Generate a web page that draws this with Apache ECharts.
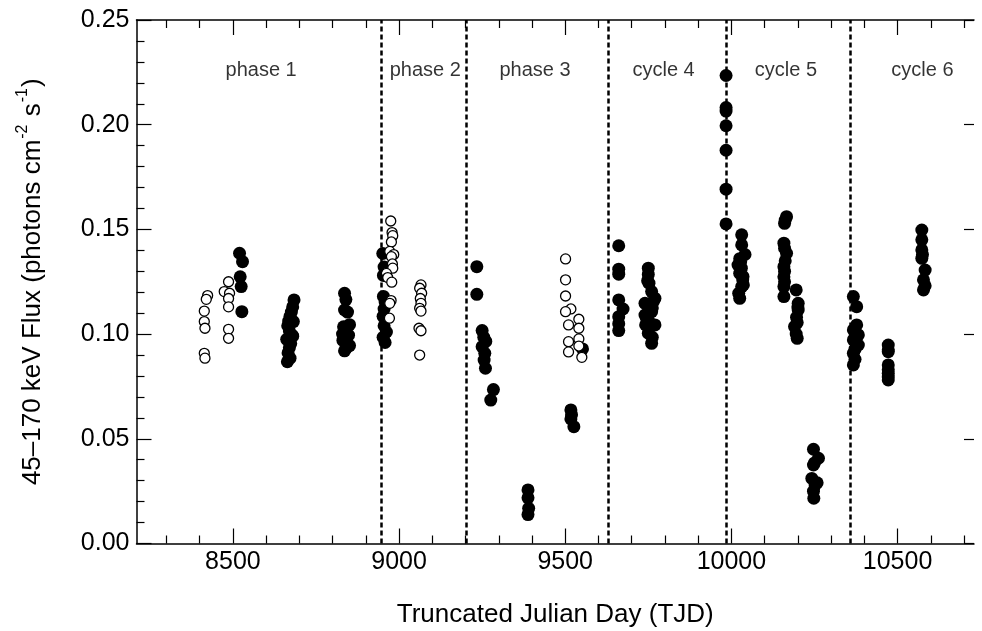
<!DOCTYPE html>
<html><head><meta charset="utf-8">
<script src="https://cdn.jsdelivr.net/npm/echarts@6/dist/echarts.min.js"></script>
<style>html,body{margin:0;padding:0;background:#fff}#c{width:982px;height:631px}</style>
</head><body><div id="c"></div>
<script>
// ---- data (TJD, flux in photons cm^-2 s^-1) ----
const filledPoints = [
  [8520,0.1386],[8529,0.1346],[8522,0.1274],[8525,0.1227],[8527,0.1107],
  [8684,0.1163],[8680,0.113],[8676,0.1105],[8672,0.1085],[8668,0.1062],[8665,0.104],[8670,0.1015],[8678,0.0995],
  [8662,0.0975],[8674,0.0955],[8670,0.0935],[8666,0.091],[8672,0.0885],[8664,0.0868],[8682,0.106],[8680,0.099],
  [8836,0.1195],[8840,0.1165],[8836,0.1115],[8845,0.1105],[8851,0.1045],[8833,0.1035],[8830,0.1],[8848,0.0995],
  [8831,0.097],[8851,0.0945],[8836,0.092],[8842,0.0935],
  [8951,0.1385],[8955,0.132],[8953,0.128],[8953,0.118],[8958,0.1155],[8955,0.112],[8952,0.1085],
  [8955,0.104],[8962,0.101],[8952,0.0985],[8958,0.096],
  [9234,0.1322],[9234,0.119],[9250,0.1017],[9255,0.0985],[9261,0.0965],[9250,0.094],[9258,0.0908],[9256,0.0876],[9260,0.0837],
  [9284,0.0735],[9276,0.0685],
  [9388,0.0256],[9388,0.0218],[9390,0.0168],[9388,0.0138],
  [9517,0.0638],[9519,0.0615],[9517,0.0595],[9526,0.0558],[9552,0.0929],
  [9661,0.1422],[9661,0.131],[9661,0.1286],[9661,0.1163],[9674,0.112],[9661,0.1083],[9661,0.105],[9661,0.1017],
  [9750,0.1315],[9750,0.1285],[9748,0.1255],[9752,0.1243],[9760,0.1203],[9770,0.1171],[9740,0.1147],[9762,0.1125],
  [9760,0.1107],[9740,0.1091],[9770,0.1044],[9742,0.1044],[9752,0.106],[9750,0.1004],[9762,0.0985],[9760,0.0956],
  [9745,0.1075],[9765,0.1155],
  [9984,0.2235],[9984,0.2082],[9984,0.2065],[9984,0.1995],[9984,0.1878],[9984,0.1692],[9984,0.1526],
  [10031,0.1474],[10031,0.1426],[10041,0.138],[10025,0.136],[10020,0.133],[10030,0.1315],[10025,0.129],[10035,0.1275],
  [10034,0.1259],[10031,0.1227],[10022,0.1195],[10025,0.1171],[10028,0.1345],[10036,0.1235],
  [10166,0.1561],[10160,0.1529],[10162,0.1545],[10158,0.1434],[10166,0.1386],[10160,0.141],[10158,0.1322],[10162,0.135],
  [10158,0.1274],[10160,0.13],[10158,0.1227],[10160,0.125],[10158,0.1179],
  [10195,0.1211],[10201,0.1147],[10201,0.1115],[10196,0.108],[10190,0.1036],[10198,0.1055],[10195,0.1],[10198,0.098],[10200,0.113],
  [10247,0.045],[10262,0.0407],[10250,0.0385],[10247,0.0375],[10242,0.0311],[10258,0.029],[10252,0.0279],[10247,0.025],[10248,0.0216],
  [10367,0.1179],[10377,0.1131],[10377,0.1044],[10367,0.102],[10382,0.0996],[10367,0.0972],[10382,0.0948],[10372,0.0928],
  [10367,0.0908],[10372,0.088],[10367,0.0853],[10375,0.1005],
  [10472,0.0948],[10472,0.0925],[10472,0.0916],[10472,0.0853],[10472,0.083],[10472,0.0813],[10472,0.0795],[10472,0.0781],
  [10573,0.1497],[10573,0.145],[10573,0.1402],[10575,0.138],[10573,0.1362],[10583,0.1306],[10578,0.1259],[10583,0.1231],[10578,0.1211]
];
const openPoints = [
  [8424,0.1184],[8420,0.1166],[8414,0.111],[8414,0.106],[8416,0.1028],[8414,0.0908],[8416,0.0885],
  [8487,0.125],[8474,0.1203],[8490,0.1195],[8487,0.117],[8487,0.113],[8487,0.1023],[8487,0.098],
  [8975,0.154],[8979,0.1485],[8981,0.147],[8977,0.144],[8972,0.1395],[8984,0.138],[8977,0.137],[8980,0.1335],
  [8981,0.1315],[8962,0.129],[8966,0.127],[8978,0.1248],[8976,0.116],[8972,0.1147],[8971,0.1076],
  [9066,0.1235],[9062,0.1219],[9068,0.1195],[9064,0.117],[9066,0.1147],[9062,0.1123],[9066,0.111],[9060,0.1028],[9066,0.1016],[9062,0.090],
  [9501,0.1359],[9501,0.1259],[9501,0.1182],[9517,0.112],[9501,0.1107],[9541,0.1071],[9510,0.1044],[9541,0.1028],
  [9541,0.0977],[9510,0.0964],[9541,0.0943],[9510,0.0915],[9550,0.0889]
];
const dividerTJD = [8945, 9202, 9629, 9984, 10358];
const periodNames = ['phase 1','phase 2','phase 3','cycle 4','cycle 5','cycle 6'];
const periodLabelTJD = [8585, 9079, 9409, 9796, 10164, 10575];
const periodLabelFlux = 0.226;
const xMajorTicks = [8500, 9000, 9500, 10000, 10500];
const xMinorTicks = [8300,8400,8600,8700,8800,8900,9100,9200,9300,9400,9600,9700,9800,9900,10100,10200,10300,10400,10600,10700];

// ---- chart ----
const FONT = "'Liberation Sans', Arial, Helvetica, sans-serif";
const XMIN = 8210, XMAX = 10730;
const black = '#000';
function xAxisDef(pos, ticks, len, withLine, withLabel) {
  return {
    type: 'value', position: pos, min: XMIN, max: XMAX,
    axisLine: { show: withLine, onZero: false, lineStyle: { color: black, width: 1.5 } },
    axisTick: { show: true, inside: true, length: len, customValues: ticks, lineStyle: { color: black, width: 1.2 } },
    axisLabel: withLabel ? { show: true, customValues: ticks, fontSize: 25, color: black, margin: 6, fontFamily: FONT, formatter: v => String(v) } : { show: false },
    splitLine: { show: false }
  };
}
const xb = xAxisDef('bottom', xMajorTicks, 15, true, true);
xb.name = 'Truncated Julian Day (TJD)';
xb.nameLocation = 'middle';
xb.nameGap = 58;
xb.nameTextStyle = { fontSize: 26, color: black, fontFamily: FONT };

const chart = echarts.init(document.getElementById('c'), null, { renderer: 'canvas' });
chart.setOption({
  animation: false,
  backgroundColor: '#fff',
  grid: { left: 136.5, right: 8, top: 20, bottom: 87.5, outerBoundsMode: 'none', containLabel: false },
  xAxis: [
    xb,
    xAxisDef('bottom', xMinorTicks, 8, false, false),
    xAxisDef('top', xMajorTicks, 15, true, false),
    xAxisDef('top', xMinorTicks, 8, false, false)
  ],
  yAxis: [
    {
      type: 'value', position: 'left', min: 0, max: 0.25, interval: 0.05,
      axisLine: { show: true, lineStyle: { color: black, width: 1.5 } },
      axisTick: { show: true, inside: true, length: 15, lineStyle: { color: black, width: 1.2 } },
      minorTick: { show: true, splitNumber: 5, length: 8, lineStyle: { color: black, width: 1.2 } },
      axisLabel: { fontSize: 25, color: black, margin: 7, fontFamily: FONT, formatter: v => v.toFixed(2) },
      splitLine: { show: false },
      name: '{t|45–170 keV Flux (photons cm}{s|-2}{t| s}{s|-1}{t|)}',
      nameLocation: 'middle', nameRotate: 90, nameGap: 86,
      nameTextStyle: {
        color: black, fontFamily: FONT,
        rich: {
          t: { fontSize: 26, lineHeight: 36, color: black, fontFamily: FONT },
          s: { fontSize: 16, lineHeight: 36, verticalAlign: 'top', color: black, fontFamily: FONT, padding: [0, 1, 0, 1] }
        }
      }
    },
    {
      type: 'value', position: 'right', min: 0, max: 0.25, interval: 0.05,
      axisLine: { show: false },
      axisTick: { show: true, inside: true, length: 10, lineStyle: { color: black, width: 1.2 } },
      axisLabel: { show: false },
      splitLine: { show: false }
    }
  ],
  series: [
    {
      type: 'line', data: [], xAxisIndex: 0, yAxisIndex: 0, z: 1,
      markLine: {
        silent: true, symbol: ['none', 'none'], animation: false,
        label: { show: false },
        lineStyle: { color: black, width: 2.5, type: [5, 3], opacity: 1 },
        data: dividerTJD.map(v => ({ xAxis: v }))
      }
    },
    {
      name: 'filled', type: 'scatter', data: filledPoints, xAxisIndex: 0, yAxisIndex: 0, z: 3,
      symbol: 'circle', symbolSize: 13,
      itemStyle: { color: black, borderColor: black, borderWidth: 0, opacity: 1 }
    },
    {
      name: 'open', type: 'scatter', data: openPoints, xAxisIndex: 0, yAxisIndex: 0, z: 4,
      symbol: 'circle', symbolSize: 10,
      itemStyle: { color: '#fff', borderColor: black, borderWidth: 1.3, opacity: 1 }
    },
    {
      name: 'labels', type: 'scatter', xAxisIndex: 0, yAxisIndex: 0, z: 5, silent: true,
      symbolSize: 0,
      data: periodNames.map((n, i) => ({ name: n, value: [periodLabelTJD[i], periodLabelFlux] })),
      label: { show: true, position: 'inside', formatter: p => p.name, fontSize: 20, color: black, fontFamily: FONT }
    }
  ]
});
</script></body></html>
